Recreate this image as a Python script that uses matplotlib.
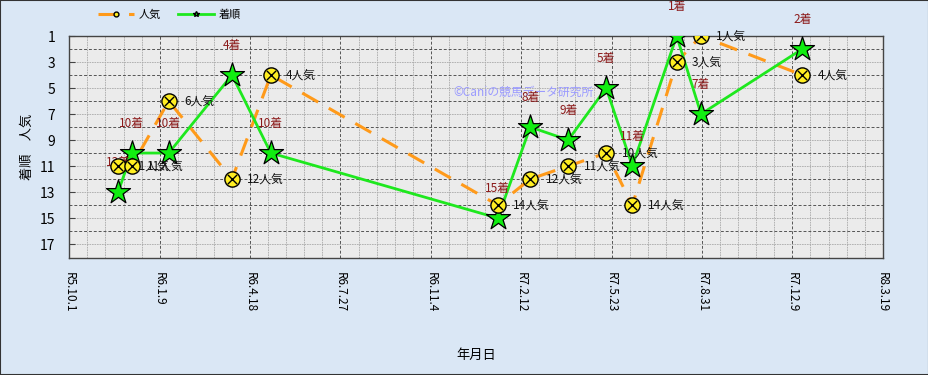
import numpy as np
import pandas as pd
import matplotlib
matplotlib.use("Agg")
import matplotlib.pyplot as plt
from matplotlib.lines import Line2D
from matplotlib.patches import Rectangle

plt.rcParams['font.family'] = ['Noto Sans CJK JP', 'DejaVu Sans']

# レース日 (令和表記のx軸)
race_dates = ['2023-11-24', '2023-12-09', '2024-01-19', '2024-03-29', '2024-05-11',
              '2025-01-17', '2025-02-22', '2025-04-05', '2025-05-17', '2025-06-15',
              '2025-08-03', '2025-08-30', '2025-12-20']
ninki = [11, 11, 6, 12, 4, 14, 12, 11, 10, 14, 3, 1, 4]
chakujun = [13, 10, 10, 4, 10, 15, 8, 9, 5, 11, 1, 7, 2]

tick_dates = ['2023-10-01', '2024-01-09', '2024-04-18', '2024-07-27', '2024-11-04',
              '2025-02-12', '2025-05-23', '2025-08-31', '2025-12-09', '2026-03-19']
tick_labels = ['R5.10.1', 'R6.1.9', 'R6.4.18', 'R6.7.27', 'R6.11.4',
               'R7.2.12', 'R7.5.23', 'R7.8.31', 'R7.12.9', 'R8.3.19']
y_ticks = [1, 3, 5, 7, 9, 11, 13, 15, 17]

dates = pd.to_datetime(race_dates)
ticks = pd.to_datetime(tick_dates)

fig = plt.figure(figsize=(9.29, 3.75), dpi=100, facecolor='#dae7f5')
ax = fig.add_axes([0.0746, 0.312, 0.8756, 0.592])
ax.set_facecolor('#ebebeb')

orange = '#ff9a1a'
green = '#1ee81e'
darkred = '#8b1a1a'

# 人気 (orange dashed)
ax.plot(dates, ninki, color=orange, lw=2.2, dashes=(6, 4), zorder=3)
# 着順 (green)
ax.plot(dates, chakujun, color=green, lw=2.0, zorder=4)

ax.scatter(dates, chakujun, marker='*', s=330, color='#11ee11',
           edgecolor='black', linewidth=0.9, zorder=5)
ax.scatter(dates, ninki, marker='o', s=120, color='#ffee22',
           edgecolor='black', linewidth=1.0, zorder=6)
ax.scatter(dates, ninki, marker='x', s=45, color='black',
           linewidth=1.0, zorder=7)

# ラベルはマーカーの下に描く (元図と同じ重なり方)
for d, n in zip(dates, ninki):
    ax.annotate(f'{n}人気', (d, n), xytext=(11, -1), textcoords='offset points',
                fontsize=8.5, ha='left', va='center', color='#111111', zorder=5.5)
for d, c in zip(dates, chakujun):
    ax.annotate(f'{c}着', (d, c), xytext=(0, 21), textcoords='offset points',
                fontsize=8.5, ha='center', va='center', color=darkred, zorder=5.5)

ax.text(0.4717, 0.748, '©Caniの競馬データ研究所', transform=ax.transAxes,
        fontsize=8.5, color='#9a9aff', ha='left', va='center', zorder=2)

ax.set_xlim(ticks[0], ticks[-1])
ax.set_ylim(18.07, 1)

ax.set_xticks(ticks)
ax.set_xticklabels(tick_labels, rotation=270, fontsize=8.5)
ax.set_xticks(pd.date_range(ticks[0], ticks[-1], freq='20D'), minor=True)
ax.set_yticks(y_ticks)
ax.set_yticklabels([str(v) for v in y_ticks], fontsize=10)
ax.set_yticks(range(2, 18, 2), minor=True)
ax.tick_params(which='both', length=0)
ax.tick_params(axis='y', which='major', direction='in', length=4, color='#444444')
ax.tick_params(axis='x', pad=10)
ax.tick_params(axis='y', pad=10)

# 目盛線
ax.grid(True, which='major', axis='x', color='#555555', lw=0.7, ls=(0, (3, 2)))
ax.grid(True, which='minor', axis='x', color='#aaaaaa', lw=0.6, ls=(0, (2, 1)))
ax.grid(True, which='minor', axis='y', color='#555555', lw=0.7, ls=(0, (3, 2)))
ax.grid(True, which='major', axis='y', color='#aaaaaa', lw=0.6, ls=(0, (2, 1)))
ax.set_axisbelow(True)

for s in ax.spines.values():
    s.set_color('#444444')
    s.set_linewidth(1.0)

ax.set_xlabel('年月日', fontsize=9.5, labelpad=26)
ax.set_ylabel('着順　人気', fontsize=9.5)
ax.yaxis.set_label_coords(-0.044, 0.5)

handles = [
    Line2D([], [], color=orange, lw=2.2, dashes=(6, 4), marker='o', markersize=3.5,
           markerfacecolor='#ffee22', markeredgecolor='black'),
    Line2D([], [], color=green, lw=2.0, marker='*', markersize=4,
           markerfacecolor='#11ee11', markeredgecolor='black'),
]
fig.legend(handles, ['人気', '着順'], loc='center left', bbox_to_anchor=(0.095, 0.96),
           ncol=2, frameon=False, fontsize=8, handlelength=3.2,
           handletextpad=0.4, columnspacing=1.6)

fig.patches.append(Rectangle((0, 0), 1, 1, transform=fig.transFigure, fill=False,
                             edgecolor='#333333', lw=1.5))

fig.savefig('out.png', dpi=100, facecolor=fig.get_facecolor())
